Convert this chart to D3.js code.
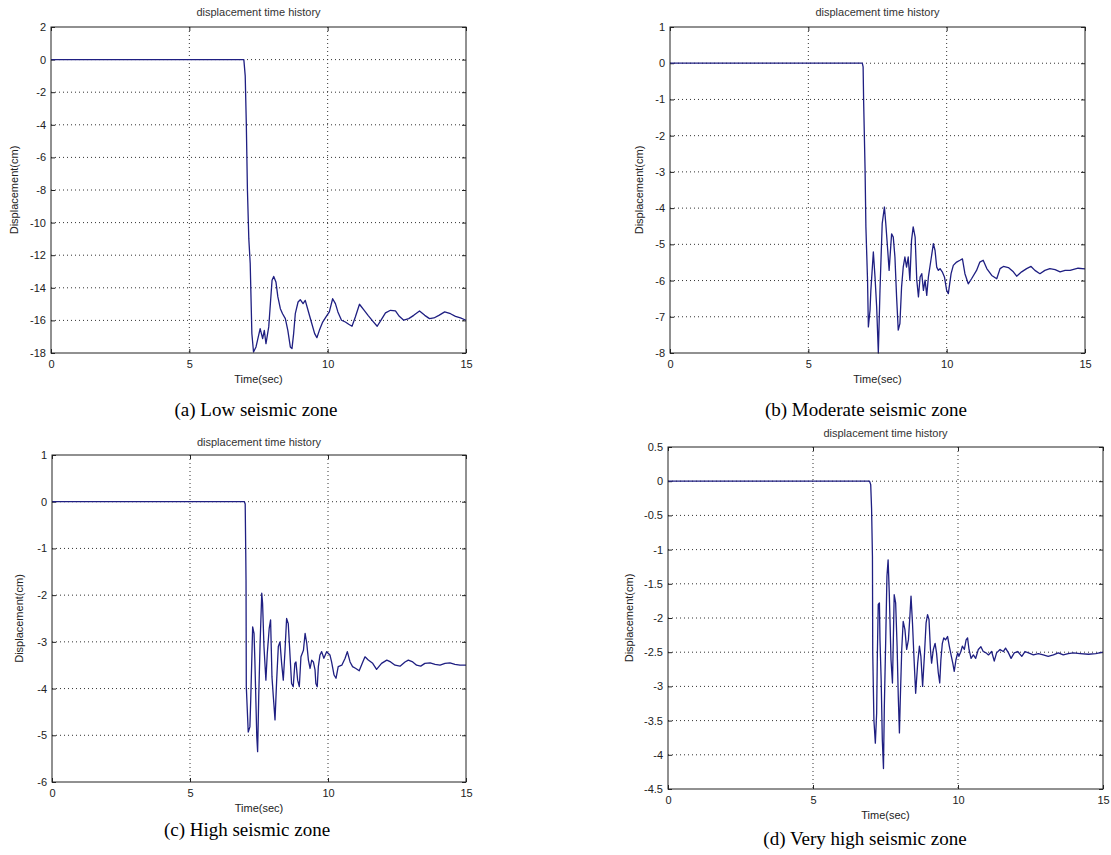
<!DOCTYPE html>
<html>
<head>
<meta charset="utf-8">
<script src="https://cdn.jsdelivr.net/npm/d3@7"></script>
<style>
  body { margin: 0; background: #fff; }
  svg { display: block; }
</style>
</head>
<body>
<script>
// tick values (same time axis for all four panels)
const timeTicks = [0, 5, 10, 15];
const ticksLow = [2, 0, -2, -4, -6, -8, -10, -12, -14, -16, -18];
const ticksModerate = [1, 0, -1, -2, -3, -4, -5, -6, -7, -8];
const ticksHigh = [1, 0, -1, -2, -3, -4, -5, -6];
const ticksVeryHigh = [0.5, 0, -0.5, -1, -1.5, -2, -2.5, -3, -3.5, -4, -4.5];

const captions = ["(a) Low seismic zone", "(b) Moderate seismic zone", "(c) High seismic zone", "(d) Very high seismic zone"];

// [time (sec), displacement (cm)]
const lowZone = [
  [0, 0], [6.97, 0], [7.02, -1], [7.06, -4], [7.1, -8], [7.15, -11], [7.2, -12.5], [7.26, -16.8], [7.32, -17.94],
  [7.41, -17.63], [7.56, -16.51], [7.65, -17.12], [7.71, -16.61], [7.77, -17.43], [7.87, -16.4], [7.99, -13.54],
  [8.05, -13.3], [8.13, -13.64], [8.2, -14.56], [8.29, -15.28], [8.37, -15.59], [8.47, -15.89], [8.56, -16.61],
  [8.65, -17.63], [8.71, -17.73], [8.77, -16.81], [8.83, -15.59], [8.93, -14.87], [9.01, -14.73], [9.11, -14.97],
  [9.19, -14.77], [9.29, -15.38], [9.41, -16.1], [9.53, -16.81], [9.61, -17.06], [9.7, -16.61], [9.82, -16.1],
  [9.94, -15.79], [10.06, -15.48], [10.18, -14.67], [10.28, -14.97], [10.37, -15.48], [10.5, -15.99], [10.64, -16.1],
  [10.76, -16.24], [10.88, -16.36], [11.0, -15.79], [11.15, -15.01], [11.3, -15.34], [11.46, -15.69], [11.63, -16.04],
  [11.79, -16.36], [11.94, -15.95], [12.09, -15.54], [12.27, -15.38], [12.45, -15.42], [12.59, -15.75], [12.75, -15.99],
  [12.93, -15.89], [13.11, -15.69], [13.32, -15.42], [13.51, -15.69], [13.68, -15.89], [13.84, -15.85], [14.02, -15.69],
  [14.23, -15.48], [14.44, -15.59], [14.62, -15.75], [14.8, -15.85], [15, -15.99]
];

const moderateZone = [
  [0, 0], [6.95, 0], [6.98, -0.1], [7.0, -1.1], [7.05, -2.9], [7.08, -4.5], [7.14, -5.99], [7.17, -7.28],
  [7.23, -6.82], [7.26, -6.27], [7.35, -5.21], [7.41, -5.9], [7.47, -6.73], [7.53, -8.0], [7.59, -6.27],
  [7.67, -4.43], [7.75, -3.97], [7.8, -4.43], [7.87, -5.17], [7.92, -5.72], [8.01, -4.71], [8.07, -4.8],
  [8.13, -5.35], [8.19, -6.45], [8.25, -7.37], [8.31, -7.19], [8.37, -6.18], [8.43, -5.63], [8.49, -5.35],
  [8.55, -5.63], [8.61, -5.35], [8.67, -5.99], [8.73, -4.89], [8.79, -4.52], [8.86, -4.8], [8.92, -5.99],
  [8.98, -6.45], [9.04, -5.9], [9.1, -5.81], [9.16, -6.27], [9.22, -5.99], [9.28, -6.41], [9.34, -5.9],
  [9.43, -5.44], [9.52, -4.98], [9.58, -5.17], [9.64, -5.63], [9.7, -5.72], [9.76, -5.67], [9.84, -5.76],
  [9.92, -5.9], [10.0, -6.27], [10.06, -6.36], [10.16, -5.81], [10.24, -5.58], [10.36, -5.49], [10.48, -5.44],
  [10.57, -5.4], [10.66, -5.81], [10.78, -6.09], [10.9, -5.95], [11.08, -5.72], [11.2, -5.49], [11.32, -5.44],
  [11.45, -5.67], [11.63, -5.86], [11.81, -5.95], [11.93, -5.67], [12.05, -5.61], [12.23, -5.64], [12.41, -5.76],
  [12.53, -5.88], [12.71, -5.76], [12.89, -5.67], [13.05, -5.61], [13.19, -5.72], [13.37, -5.81], [13.55, -5.72],
  [13.73, -5.67], [13.92, -5.7], [14.1, -5.76], [14.28, -5.72], [14.46, -5.72], [14.75, -5.66], [15, -5.68]
];

const highZone = [
  [0, 0], [6.97, 0], [7.0, -0.05], [7.02, -1.1], [7.03, -1.68], [7.04, -3.96], [7.11, -4.93], [7.17, -4.82],
  [7.2, -4.25], [7.27, -2.68], [7.32, -2.82], [7.35, -3.39], [7.42, -5.03], [7.45, -5.35], [7.49, -4.18],
  [7.54, -3.03], [7.6, -1.96], [7.63, -2.18], [7.68, -3.1], [7.75, -3.82], [7.8, -3.25], [7.87, -2.71],
  [7.92, -2.53], [7.97, -3.75], [8.02, -4.18], [8.08, -4.67], [8.14, -3.82], [8.2, -3.1], [8.26, -3.0],
  [8.32, -3.46], [8.38, -3.82], [8.44, -3.21], [8.5, -2.5], [8.56, -2.61], [8.62, -3.25], [8.68, -3.89],
  [8.74, -3.96], [8.8, -3.46], [8.84, -3.43], [8.9, -3.82], [8.96, -3.96], [9.02, -3.32], [9.11, -3.18],
  [9.17, -2.82], [9.23, -3.03], [9.29, -3.39], [9.35, -3.57], [9.41, -3.39], [9.47, -3.43], [9.53, -3.6],
  [9.56, -3.89], [9.61, -3.96], [9.65, -3.53], [9.71, -3.28], [9.77, -3.21], [9.85, -3.35], [9.95, -3.21],
  [10.07, -3.28], [10.13, -3.43], [10.22, -3.71], [10.29, -3.78], [10.37, -3.53], [10.5, -3.5], [10.62, -3.35],
  [10.7, -3.21], [10.8, -3.43], [10.89, -3.53], [11.01, -3.57], [11.13, -3.62], [11.26, -3.43], [11.34, -3.32],
  [11.46, -3.39], [11.62, -3.46], [11.76, -3.59], [11.94, -3.46], [12.13, -3.39], [12.27, -3.43], [12.43, -3.5],
  [12.61, -3.52], [12.79, -3.43], [12.91, -3.39], [13.07, -3.43], [13.21, -3.5], [13.36, -3.52], [13.51, -3.46],
  [13.7, -3.45], [13.88, -3.48], [14.06, -3.5], [14.24, -3.46], [14.42, -3.45], [14.6, -3.48], [14.78, -3.5],
  [15, -3.5]
];

const veryHighZone = [
  [0, 0], [6.95, 0], [6.99, -0.05], [7.02, -0.4], [7.05, -1.1], [7.06, -2.51], [7.1, -3.49], [7.15, -3.83],
  [7.195, -3.39], [7.22, -2.51], [7.25, -1.8], [7.29, -1.78], [7.31, -2.32], [7.35, -2.9], [7.39, -3.78],
  [7.43, -4.2], [7.46, -3.29], [7.51, -2.27], [7.55, -1.39], [7.59, -1.15], [7.63, -1.63], [7.69, -2.61],
  [7.74, -2.95], [7.77, -2.32], [7.8, -1.66], [7.85, -1.78], [7.9, -2.41], [7.94, -3.14], [7.98, -3.68],
  [8.01, -3.19], [8.06, -2.46], [8.11, -2.05], [8.17, -2.17], [8.23, -2.46], [8.29, -2.32], [8.34, -1.98],
  [8.38, -1.68], [8.43, -2.07], [8.48, -2.56], [8.54, -3.1], [8.61, -2.66], [8.67, -2.41], [8.72, -2.56],
  [8.78, -3.0], [8.84, -2.56], [8.9, -2.07], [8.95, -1.95], [9.0, -2.02], [9.05, -2.46], [9.09, -2.66],
  [9.15, -2.46], [9.21, -2.37], [9.26, -2.51], [9.32, -2.8], [9.37, -2.95], [9.41, -2.61], [9.46, -2.37],
  [9.51, -2.29], [9.57, -2.32], [9.64, -2.27], [9.7, -2.41], [9.76, -2.54], [9.82, -2.66], [9.87, -2.78],
  [9.93, -2.61], [9.99, -2.51], [10.03, -2.56], [10.1, -2.49], [10.15, -2.41], [10.22, -2.46], [10.28, -2.32],
  [10.33, -2.29], [10.38, -2.46], [10.45, -2.59], [10.53, -2.54], [10.61, -2.59], [10.7, -2.46], [10.79, -2.42],
  [10.87, -2.49], [10.97, -2.51], [11.05, -2.54], [11.16, -2.49], [11.25, -2.63], [11.33, -2.51], [11.45, -2.46],
  [11.56, -2.49], [11.64, -2.44], [11.74, -2.51], [11.83, -2.59], [11.94, -2.51], [12.06, -2.49], [12.2, -2.56],
  [12.31, -2.49], [12.43, -2.51], [12.6, -2.54], [12.77, -2.52], [12.94, -2.54], [13.11, -2.56], [13.29, -2.54],
  [13.46, -2.51], [13.63, -2.54], [13.8, -2.52], [13.98, -2.51], [14.21, -2.52], [14.5, -2.53], [14.75, -2.52],
  [15, -2.5]
];

const svg = d3.select("body").append("svg")
  .attr("width", 1111)
  .attr("height", 855);

// pixel boxes of the four sub-plots
const panels = [
  { data: lowZone, ticks: ticksLow, left: 51, right: 466, top: 27, bottom: 353, titleY: 13, ylabX: 15, capX: 256, capY: 412 },
  { data: moderateZone, ticks: ticksModerate, left: 670, right: 1085, top: 27, bottom: 353, titleY: 13, ylabX: 640, capX: 866, capY: 412 },
  { data: highZone, ticks: ticksHigh, left: 52, right: 466, top: 455, bottom: 782, titleY: 443, ylabX: 20, capX: 247, capY: 832 },
  { data: veryHighZone, ticks: ticksVeryHigh, left: 668, right: 1103, top: 447, bottom: 789, titleY: 434, ylabX: 630, capX: 865, capY: 841 }
];

const lineColor = "#1f1f82";
const sans = "Liberation Sans, Arial, sans-serif";
const plain = d => String(d); // matlab style: "-0.5", "0", "1"

panels.forEach((p, i) => {
  const w = p.right - p.left;
  const h = p.bottom - p.top;
  const x = d3.scaleLinear().domain([0, 15]).range([0, w]);
  const y = d3.scaleLinear().domain(d3.extent(p.ticks)).range([h, 0]);

  const g = svg.append("g").attr("transform", `translate(${p.left},${p.top})`);

  // dotted grid
  g.append("g").selectAll("line")
    .data(timeTicks.slice(1, -1))
    .join("line")
    .attr("x1", d => x(d)).attr("x2", d => x(d))
    .attr("y1", 0).attr("y2", h)
    .attr("stroke", "#333").attr("stroke-width", 1)
    .attr("stroke-dasharray", "1,3");

  g.append("g").selectAll("line")
    .data(p.ticks.slice(1, -1))
    .join("line")
    .attr("x1", 0).attr("x2", w)
    .attr("y1", d => y(d)).attr("y2", d => y(d))
    .attr("stroke", "#333").attr("stroke-width", 1)
    .attr("stroke-dasharray", "1,3");

  // axes, ticks inside
  const bottomAxis = g.append("g").attr("transform", `translate(0,${h})`)
    .call(d3.axisBottom(x).tickValues(timeTicks).tickFormat(plain).tickSize(-4).tickPadding(7));
  const leftAxis = g.append("g")
    .call(d3.axisLeft(y).tickValues(p.ticks).tickFormat(plain).tickSize(-4).tickPadding(5));
  const topAxis = g.append("g")
    .call(d3.axisTop(x).tickValues(timeTicks).tickSize(-4).tickFormat(""));
  const rightAxis = g.append("g").attr("transform", `translate(${w},0)`)
    .call(d3.axisRight(y).tickValues(p.ticks).tickSize(-4).tickFormat(""));

  [bottomAxis, leftAxis, topAxis, rightAxis].forEach(a => {
    a.select(".domain").remove();
    a.selectAll("line").attr("stroke", "#222");
    a.selectAll("text").attr("font-family", sans).attr("font-size", 11).attr("fill", "#222");
  });

  // trace
  const clipId = "clip" + i;
  g.append("clipPath").attr("id", clipId)
    .append("rect").attr("x", -1).attr("y", -1).attr("width", w + 2).attr("height", h + 2);

  g.append("path")
    .datum(p.data)
    .attr("clip-path", `url(#${clipId})`)
    .attr("fill", "none")
    .attr("stroke", lineColor)
    .attr("stroke-width", 1.3)
    .attr("stroke-linejoin", "round")
    .attr("d", d3.line().x(d => x(d[0])).y(d => y(d[1])));

  // border
  g.append("rect")
    .attr("width", w).attr("height", h)
    .attr("fill", "none").attr("stroke", "#222").attr("stroke-width", 1);

  // texts
  svg.append("text")
    .attr("x", p.left + w / 2).attr("y", p.titleY)
    .attr("text-anchor", "middle").attr("dominant-baseline", "middle")
    .attr("font-family", sans).attr("font-size", 11).attr("fill", "#333")
    .text("displacement time history");

  svg.append("text")
    .attr("x", p.left + w / 2).attr("y", p.bottom + 27)
    .attr("text-anchor", "middle").attr("dominant-baseline", "middle")
    .attr("font-family", sans).attr("font-size", 11).attr("fill", "#222")
    .text("Time(sec)");

  svg.append("text")
    .attr("transform", `translate(${p.ylabX},${p.top + h / 2}) rotate(-90)`)
    .attr("text-anchor", "middle").attr("dominant-baseline", "middle")
    .attr("font-family", sans).attr("font-size", 11).attr("fill", "#222")
    .text("Displacement(cm)");

  svg.append("text")
    .attr("x", p.capX).attr("y", p.capY)
    .attr("text-anchor", "middle").attr("dominant-baseline", "middle")
    .attr("font-family", "Liberation Serif, Times New Roman, serif")
    .attr("font-size", 19).attr("fill", "#000")
    .text(captions[i]);
});
</script>
</body>
</html>
